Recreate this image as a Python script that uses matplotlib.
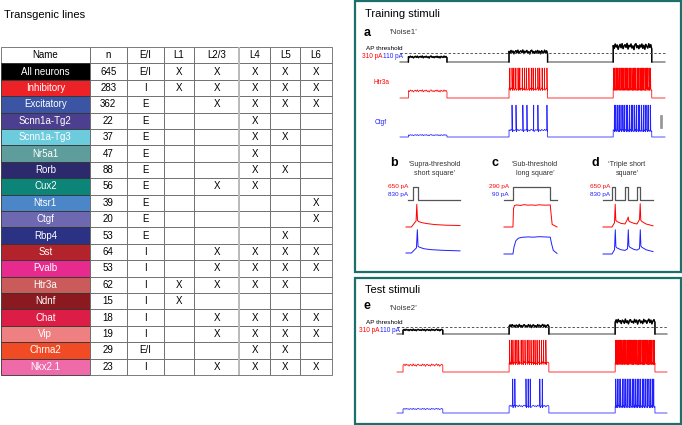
import numpy as np
import matplotlib
matplotlib.use('Agg')
import matplotlib.pyplot as plt
from matplotlib.patches import Rectangle

plt.rcParams['font.family'] = ['Liberation Sans', 'DejaVu Sans']

W, H = 682, 425

# ---------------- table data ----------------
names = ['All neurons', 'Inhibitory', 'Excitatory', 'Scnn1a-Tg2', 'Scnn1a-Tg3', 'Nr5a1',
         'Rorb', 'Cux2', 'Ntsr1', 'Ctgf', 'Rbp4', 'Sst', 'Pvalb', 'Htr3a', 'Ndnf',
         'Chat', 'Vip', 'Chrna2', 'Nkx2.1']
counts = [645, 283, 362, 22, 37, 47, 88, 56, 39, 20, 53, 64, 53, 62, 15, 18, 19, 29, 23]
ei = ['E/I', 'I', 'E', 'E', 'E', 'E', 'E', 'E', 'E', 'E', 'E', 'I', 'I', 'I', 'I',
      'I', 'I', 'E/I', 'I']
layers = ['L1', 'L2/3', 'L4', 'L5', 'L6']
# one char per layer, X = present
presence = ['XXXXX', 'XXXXX', '-XXXX', '--X--', '--XX-', '--X--', '--XX-', '-XX--',
            '----X', '----X', '---X-', '-XXXX', '-XXXX', 'XXXX-', 'X----', '-XXXX',
            '-XXXX', '--XX-', '-XXXX']
name_colors = ['#000000', '#ec2227', '#3b54a4', '#4c3f8f', '#6ccbdc', '#5f9c9c',
               '#2c2a6c', '#0d8478', '#4b87c8', '#6e68b0', '#2b3283', '#b2232b',
               '#e72a8e', '#c95b5b', '#8a1a1f', '#dc1d46', '#ef8081', '#f04b24', '#ee6aa8']

# ---------------- noise stimuli ----------------
noise1_on = [0.7, 9.05, 17.7]
noise1_dur = 3.2
noise1_total = 22.0
noise2_on = [0.5, 9.3, 18.1]
noise2_dur = 3.3
noise2_total = 22.4
noise_levels = [0.5, 1.0, 1.55]      # x rheobase
ap_threshold = 0.93
wiggle1 = [0.3, -0.6, 0.8, -0.2, 0.5, -0.9, 0.1, 0.7, -0.4, 0.9, -0.7, 0.2, 0.6, -0.3,
           1.0, -0.8, 0.4, -0.1, 0.8, -0.5, 0.2, -1.0, 0.6, 0.9, -0.4, 0.3, -0.7, 0.5,
           -0.2, 0.8, -0.6, 0.4, -0.9, 0.7, 0.0, -0.5, 0.9, -0.3, 0.6, -0.8]
wiggle2 = [-0.2, 0.7, -0.5, 0.9, -0.1, 0.4, -0.8, 0.6, 0.2, -0.7, 1.0, -0.4, 0.3, -0.9,
           0.5, 0.8, -0.3, 0.1, -0.6, 0.9, -0.2, 0.6, -1.0, 0.4, 0.7, -0.5, 0.2, -0.8,
           0.9, -0.1, 0.5, -0.7, 0.3, 1.0, -0.4, 0.6, -0.9, 0.2, 0.8, -0.3]

# spike times (s)
htr3a_n1 = [9.12, 9.3, 9.45, 9.62, 9.8, 9.95, 10.15, 10.35, 10.5, 10.7, 10.9, 11.05,
            11.25, 11.45, 11.6, 11.8, 12.0, 12.2,
            17.75, 17.85, 17.97, 18.06, 18.18, 18.27, 18.4, 18.5, 18.6, 18.72, 18.83,
            18.93, 19.05, 19.15, 19.26, 19.37, 19.48, 19.58, 19.7, 19.8, 19.92, 20.02,
            20.13, 20.24, 20.35, 20.46, 20.57, 20.68, 20.8]
ctgf_n1 = [9.3, 9.63, 10.2, 10.54, 11.1, 11.45, 12.2,
           17.8, 17.92, 18.08, 18.2, 18.35, 18.5, 18.62, 18.78, 18.9, 19.05, 19.2,
           19.33, 19.48, 19.62, 19.78, 19.9, 20.05, 20.2, 20.35, 20.5, 20.65, 20.8]
htr3a_n2 = [9.35, 9.5, 9.62, 9.8, 9.95, 10.1, 10.3, 10.45, 10.62, 10.8, 10.95, 11.12,
            11.3, 11.45, 11.62, 11.8, 11.98, 12.15, 12.35,
            18.15, 18.25, 18.35, 18.46, 18.56, 18.66, 18.77, 18.87, 18.97, 19.08, 19.18,
            19.28, 19.39, 19.49, 19.59, 19.7, 19.8, 19.9, 20.01, 20.11, 20.21, 20.32,
            20.42, 20.52, 20.63, 20.73, 20.83, 20.94, 21.04, 21.14, 21.25, 21.35]
ctgf_n2 = [9.6, 9.78, 10.7, 10.88, 11.05, 11.85, 12.05,
           18.15, 18.28, 18.42, 18.55, 18.7, 18.83, 18.97, 19.1, 19.25, 19.38, 19.52,
           19.65, 19.8, 19.93, 20.07, 20.2, 20.35, 20.48, 20.62, 20.75, 20.9, 21.03,
           21.17, 21.3]

# ---------------- short / long squares ----------------
b_pulse_on, b_pulse_dur = [3.0], 3.0          # ms
b_red_t = [0, 3, 5.6, 6.0, 6.4, 7.0, 9, 12, 16, 22, 30]
b_red_v = [-70, -70, -50, 5, -48, -52, -56, -59, -62, -64, -65]
b_blue_t = [0, 3, 5.8, 6.3, 6.7, 7.5, 10, 14, 20, 30]
b_blue_v = [-72, -72, -55, 5, -50, -53, -58, -61, -63, -65]

c_step_on, c_step_dur = [0.0], 1.0            # s
c_red_t = [-0.24, 0, 0.015, 0.04, 0.1, 0.2, 0.3, 0.4, 0.5, 0.6, 0.7, 0.8, 0.9, 1.0,
           1.015, 1.05, 1.18]
c_red_v = [-72, -72, -58, -55.5, -55, -55.4, -54.8, -55.2, -55.0, -55.3, -54.9, -55.1,
           -55.2, -55.0, -60, -70, -72]
c_blue_t = [-0.24, 0, 0.03, 0.08, 0.15, 0.25, 0.4, 0.55, 0.7, 0.85, 1.0, 1.03, 1.08, 1.18]
c_blue_v = [-72, -72, -66, -61, -59, -58.3, -58, -58.2, -57.8, -58, -58.2, -63, -69, -71.5]

d_pulse_on, d_pulse_dur = [9.0, 22.0, 34.0], 3.0   # ms
d_red_t = [0, 9, 11.5, 12.2, 12.8, 14, 18, 22, 24.5, 25.2, 25.8, 27, 31, 34, 36.5, 37.2,
           37.8, 39, 43, 50]
d_red_v = [-70, -70, -56, 5, -48, -52, -58, -60, -44, -37, -50, -53, -58, -60, -45, 7,
           -48, -52, -60, -66]
d_blue_t = [0, 9, 11.5, 12.3, 12.9, 14, 18, 22, 24.5, 25.3, 25.9, 27, 31, 34, 36.5, 37.3,
            37.9, 39, 43, 50]
d_blue_v = [-72, -72, -58, 8, -48, -52, -58, -60, -55, 8, -46, -50, -57, -59, -54, 8,
            -46, -50, -58, -64]

RED = '#ff0000'
BLUE = '#1f1fff'
GREY = '#555555'
BOX = '#1c6f6b'


def noise_stim(onsets, dur, levels, wiggle, total):
    k = np.arange(len(wiggle)) / (len(wiggle) - 1)
    t, s = [0.0], [0.0]
    for on, lev in zip(onsets, levels):
        t += [on] + list(on + dur * k) + [on + dur]
        s += [0.0] + list(lev * (1 + 0.2 * np.array(wiggle))) + [0.0]
    t.append(total)
    s.append(0.0)
    return np.array(t), np.array(s)


def noise_vm(onsets, dur, total, wiggle, rest, sub, wig_mv, spikes, peak):
    k = np.arange(len(wiggle)) / (len(wiggle) - 1)
    pts = [(0.0, rest)]
    for on, lev, a in zip(onsets, sub, wig_mv):
        pts.append((on, rest))
        pts += [(on + dur * kk, lev + a * w) for kk, w in zip(k, wiggle)]
        pts.append((on + dur, rest))
    pts.append((total, rest))
    for sp in spikes:
        lev = [l for on, l in zip(onsets, sub) if on <= sp <= on + dur][0]
        pts += [(sp - 0.012, lev), (sp, peak), (sp + 0.03, lev - 5)]
    pts.sort(key=lambda p: p[0])
    t, v = zip(*pts)
    return t, v


def pulses(onsets, dur, amp, t0, t1):
    t, s = [t0], [0]
    for on in onsets:
        t += [on, on, on + dur, on + dur]
        s += [0, amp, amp, 0]
    t.append(t1)
    s.append(0)
    return t, s


fig = plt.figure(figsize=(W / 100, H / 100), dpi=100)


def trace_ax(x0, x1, y_base, v_base, per_px, xlim):
    ax = fig.add_axes([x0 / W, 1 - y_base / H, (x1 - x0) / W, 10 / H])
    ax.set_xlim(*xlim)
    ax.set_ylim(v_base, v_base + 10 * per_px)
    ax.axis('off')
    return ax


def ftext(x, y, s, **kw):
    fig.text(x / W, 1 - y / H, s, **kw)


# ---------------- table ----------------
ftext(4, 15, 'Transgenic lines', fontsize=8, va='center')
tax = fig.add_axes([1 / W, 1 - 375 / H, 331 / W, 328 / H])
tax.axis('off')
rows = []
for i in range(len(names)):
    rows.append([names[i], str(counts[i]), ei[i]] + [('X' if c == 'X' else '') for c in presence[i]])
colw = np.array([89, 37, 37, 31, 45, 31, 30, 32], float)
colours = [[name_colors[i]] + ['white'] * 7 for i in range(len(names))]
tbl = tax.table(cellText=rows, colLabels=['Name', 'n', 'E/I'] + layers,
                cellColours=colours, colWidths=list(colw / colw.sum()),
                cellLoc='center', bbox=[0, 0, 1, 1])
tbl.auto_set_font_size(False)
tbl.set_fontsize(7)
for (r, c), cell in tbl.get_celld().items():
    cell.set_edgecolor('#666666')
    cell.set_linewidth(0.6)
    if c == 0 and r > 0:
        cell.get_text().set_color('white')
        cell.set_edgecolor('#333333')
edge = np.cumsum(colw / colw.sum())[4]
tax.axvline(edge, color='#bbbbbb', lw=1.4)

# ---------------- boxes ----------------
for y0, y1 in [(1, 272), (278, 424)]:
    fig.add_artist(Rectangle((355 / W, 1 - y1 / H), 326 / W, (y1 - y0) / H,
                             transform=fig.transFigure, fill=False, ec=BOX, lw=1.6))

# ---------------- panel a ----------------
ftext(365, 14, 'Training stimuli', fontsize=8, va='center')
ftext(364, 33, 'a', fontsize=9, fontweight='bold', va='center')
ftext(389, 33, '‘Noise1’', fontsize=5.6, va='center', color='#333333')
ax = trace_ax(400, 665, 62, 0, 0.1, (0, noise1_total))
t, s = noise_stim(noise1_on, noise1_dur, noise_levels, wiggle1, noise1_total)
ax.plot(t, s, color=GREY, lw=0.8, clip_on=False)
for on in noise1_on:
    m = (t >= on) & (t <= on + noise1_dur)
    ax.plot(t[m], s[m], color='black', lw=1.0, clip_on=False)
ax.axhline(ap_threshold, color=GREY, ls=(0, (2.5, 2)), lw=0.7, clip_on=False)
ftext(403, 49, 'AP threshold', fontsize=4.6, ha='right', va='center')
ftext(383, 57, '310 pA', fontsize=4.7, ha='right', va='center', color=RED)
ftext(403, 57, '110 pA', fontsize=4.7, ha='right', va='center', color=BLUE)

ax = trace_ax(400, 665, 98, -72, 3.4, (0, noise1_total))
t, v = noise_vm(noise1_on, noise1_dur, noise1_total, wiggle1, -72, [-48, -41, -41],
                [4, 4, 4], htr3a_n1, 30)
ax.plot(t, v, color=RED, lw=0.55, clip_on=False)
ftext(382, 83, 'Htr3a', fontsize=4.7, ha='center', va='center', color=RED)

ax = trace_ax(400, 665, 137, -72, 3.2, (0, noise1_total))
t, v = noise_vm(noise1_on, noise1_dur, noise1_total, wiggle1, -72, [-66, -50, -50],
                [2, 3, 3], ctgf_n1, 30)
ax.plot(t, v, color=BLUE, lw=0.55, clip_on=False)
ax.plot([21.65, 21.65], [-40, -5], color='#999999', lw=2, clip_on=False)
ftext(381, 122, 'Ctgf', fontsize=4.7, ha='center', va='center', color=BLUE)

# ---------------- panels b, c, d ----------------
ftext(390, 163, 'b', fontsize=9, fontweight='bold', va='center')
ftext(435, 169, '‘Supra-threshold\nshort square’', fontsize=5.1, ha='center', va='center',
      color='#333333', linespacing=1.3)
ax = trace_ax(408, 460, 200, 0, 50, (0, 30))
ax.plot(*pulses(b_pulse_on, b_pulse_dur, 650, 0, 30), color=GREY, lw=0.9, clip_on=False)
ftext(408, 187, '650 pA', fontsize=4.6, ha='right', va='center', color=RED)
ftext(408, 195, '830 pA', fontsize=4.6, ha='right', va='center', color=BLUE)
ax = trace_ax(406, 460, 227, -70, 3.3, (0, 30))
ax.plot(b_red_t, b_red_v, color=RED, lw=0.7, clip_on=False)
ax = trace_ax(406, 460, 253, -72, 3.3, (0, 30))
ax.plot(b_blue_t, b_blue_v, color=BLUE, lw=0.7, clip_on=False)

ftext(491, 163, 'c', fontsize=9, fontweight='bold', va='center')
ftext(535, 169, '‘Sub-threshold\nlong square’', fontsize=5.1, ha='center', va='center',
      color='#333333', linespacing=1.3)
ax = trace_ax(504, 557, 200, 0, 22.3, (-0.24, 1.18))
ax.plot(*pulses(c_step_on, c_step_dur, 290, -0.24, 1.18), color=GREY, lw=0.9, clip_on=False)
ftext(509, 187, '290 pA', fontsize=4.6, ha='right', va='center', color=RED)
ftext(509, 195, '90 pA', fontsize=4.6, ha='right', va='center', color=BLUE)
ax = trace_ax(504, 557, 227, -72, 0.77, (-0.24, 1.18))
ax.plot(c_red_t, c_red_v, color=RED, lw=0.7, clip_on=False)
ax = trace_ax(504, 557, 254, -72, 0.82, (-0.24, 1.18))
ax.plot(c_blue_t, c_blue_v, color=BLUE, lw=0.7, clip_on=False)

ftext(591, 163, 'd', fontsize=9, fontweight='bold', va='center')
ftext(627, 169, '‘Triple short\nsquare’', fontsize=5.1, ha='center', va='center',
      color='#333333', linespacing=1.3)
ax = trace_ax(603, 653, 200, 0, 50, (0, 50))
ax.plot(*pulses(d_pulse_on, d_pulse_dur, 650, 0, 50), color=GREY, lw=0.9, clip_on=False)
ftext(610, 187, '650 pA', fontsize=4.6, ha='right', va='center', color=RED)
ftext(610, 195, '830 pA', fontsize=4.6, ha='right', va='center', color=BLUE)
ax = trace_ax(603, 653, 227, -70, 3.3, (0, 50))
ax.plot(d_red_t, d_red_v, color=RED, lw=0.7, clip_on=False)
ax = trace_ax(603, 653, 254, -72, 3.3, (0, 50))
ax.plot(d_blue_t, d_blue_v, color=BLUE, lw=0.7, clip_on=False)

# ---------------- panel e ----------------
ftext(365, 290, 'Test stimuli', fontsize=8, va='center')
ftext(364, 306, 'e', fontsize=9, fontweight='bold', va='center')
ftext(389, 309, '‘Noise2’', fontsize=5.6, va='center', color='#333333')
ax = trace_ax(397, 667, 334, 0, 0.125, (0, noise2_total))
t, s = noise_stim(noise2_on, noise2_dur, noise_levels, wiggle2, noise2_total)
ax.plot(t, s, color=GREY, lw=0.8, clip_on=False)
for on in noise2_on:
    m = (t >= on) & (t <= on + noise2_dur)
    ax.plot(t[m], s[m], color='black', lw=1.0, clip_on=False)
ax.axhline(ap_threshold, color=GREY, ls=(0, (2.5, 2)), lw=0.7, clip_on=False)
ftext(402, 322, 'AP threshold', fontsize=4.6, ha='right', va='center')
ftext(380, 331, '310 pA', fontsize=4.7, ha='right', va='center', color=RED)
ftext(400, 331, '110 pA', fontsize=4.7, ha='right', va='center', color=BLUE)

ax = trace_ax(397, 667, 372, -72, 3.2, (0, noise2_total))
t, v = noise_vm(noise2_on, noise2_dur, noise2_total, wiggle2, -72, [-50, -43, -43],
                [4, 4, 4], htr3a_n2, 30)
ax.plot(t, v, color=RED, lw=0.55, clip_on=False)

ax = trace_ax(397, 667, 413, -72, 3.0, (0, noise2_total))
t, v = noise_vm(noise2_on, noise2_dur, noise2_total, wiggle2, -72, [-60, -51, -51],
                [2, 3, 3], ctgf_n2, 30)
ax.plot(t, v, color=BLUE, lw=0.55, clip_on=False)

fig.savefig('out.png', dpi=100)
